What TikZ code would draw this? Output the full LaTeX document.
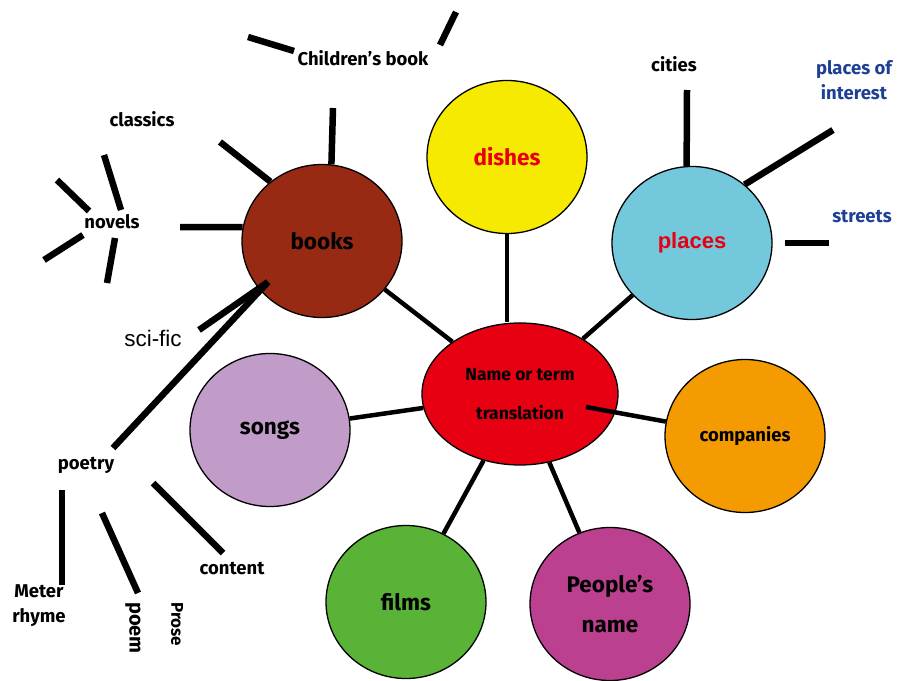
\documentclass[tikz,border=0pt]{standalone}
\usepackage{fontspec}
\setmainfont{Fira Sans}
\newfontfamily\arialfont{Liberation Sans}
\usetikzlibrary{shapes.geometric}
\definecolor{termred}{HTML}{E60012}
\definecolor{bookbrown}{HTML}{982A14}
\definecolor{dishyellow}{HTML}{F5EA00}
\definecolor{placeblue}{HTML}{74C8DC}
\definecolor{songlilac}{HTML}{C29CC8}
\definecolor{companyorange}{HTML}{F39B00}
\definecolor{filmgreen}{HTML}{58B336}
\definecolor{peoplemagenta}{HTML}{BC4090}
\definecolor{labelblue}{HTML}{1E3F96}

\begin{document}
\begin{tikzpicture}[x=1pt, y=-1pt,
		bubble/.style={draw, ellipse, line width=1.3pt, inner sep=0pt, minimum width=160pt, minimum height=153pt, align=center, font=\bfseries\fontsize{22.5}{40}\selectfont},
		link/.style={line width=4.5pt},
		stub/.style={line width=6.5pt},
		lbl/.style={font=\bfseries\fontsize{18.5}{25}\selectfont, align=center}]
		\useasboundingbox (0,0) rectangle (899,680);

		% Define nodes
		\node[bubble, fill=termred, minimum width=196pt, minimum height=142pt, font=\bfseries\fontsize{17.5}{39}\selectfont] (center) at (520,394) {Name or term\\translation};
		\node[bubble, fill=bookbrown] (books) at (322,241) {books}; \node[bubble, fill=dishyellow, text=termred] (dishes) at (507,157) {dishes};
		\node[bubble, fill=placeblue, text=termred, font=\arialfont\bfseries\fontsize{22}{27}\selectfont] (places) at (692,243) {places};
		\node[bubble, fill=songlilac] (songs) at (270,430) {songs}; \node[bubble, fill=companyorange, font=\bfseries\fontsize{18.5}{22}\selectfont] (companies) at (745,436) {companies};
		\node[bubble, fill=filmgreen] (films) at (406,602) {films}; \node[bubble, fill=peoplemagenta] (people) at (610,604) {People's\\name};

		% Define labels
		\node[lbl] (childrens) at (363,58) {Children's book}; \node[lbl] (classics) at (142,119) {classics};
		\node[lbl] (novels) at (112,222) {novels}; \node[font=\arialfont\fontsize{22.5}{24}\selectfont] (scific) at (153,338) {sci-fic};
		\node[lbl] (poetry) at (86,465) {poetry}; \node[lbl] (content) at (232,569) {content};
		\node[lbl] (meter) at (39,606) {Meter\\rhyme};
		\node[lbl, font=\bfseries\fontsize{20}{24}\selectfont, rotate=-90] (poem) at (133,628) {poem}; \node[lbl, font=\bfseries\fontsize{17}{24}\selectfont, rotate=-90] (prose) at (177,624) {Prose};
		\node[lbl] (cities) at (674,64) {cities}; \node[lbl, text=labelblue] (interest) at (854,80) {places of\\interest};
		\node[lbl, text=labelblue] (streets) at (862,217) {streets};

		% Free ends
		\coordinate (bk-top) at (333,108); \coordinate (bk-ul) at (220,142); \coordinate (bk-left) at (180,227);
		\coordinate (bk-in) at (268,282); \coordinate (scific-end) at (199,330); \coordinate (poetry-end) at (113,448);
		\coordinate (ch-a) at (248,37); \coordinate (ch-b) at (294,51); \coordinate (ch-c) at (456,12); \coordinate (ch-d) at (440,45);
		\coordinate (cl-a) at (104,155); \coordinate (cl-b) at (121,210); \coordinate (nv-a) at (57,180); \coordinate (nv-b) at (89,211);
		\coordinate (nv-c) at (44,260); \coordinate (nv-d) at (83,235); \coordinate (nv-e) at (115,238); \coordinate (nv-f) at (107,283);
		\coordinate (po-a) at (62,490); \coordinate (po-b) at (62,585); \coordinate (po-c) at (102,513); \coordinate (po-d) at (138,593);
		\coordinate (po-e) at (153,483); \coordinate (po-f) at (223,553);
		\coordinate (ct-top) at (687,90); \coordinate (pl-ur) at (833,130); \coordinate (pl-right) at (829,243); \coordinate (pl-gap) at (785,243);
		\coordinate (center-in) at (586,407);

		% Draw edges
		\draw[link] (center) -- (books); \draw[link] (dishes) -- (dishes |- center.north); \draw[link] (center) -- (places);
		\draw[link] (center) -- (songs); \draw[link] (center-in) -- (companies); \draw[link] (center) -- (films); \draw[link] (center) -- (people);

		% Draw stubs
		\draw[stub] (books.83) -- (bk-top); \draw[stub] (books.131) -- (bk-ul); \draw[stub] (books.170) -- (bk-left);
		\draw[stub] (bk-in) -- (scific-end); \draw[stub] (bk-in) -- (poetry-end);
		\draw[stub] (ch-a) -- (ch-b); \draw[stub] (ch-c) -- (ch-d); \draw[stub] (cl-a) -- (cl-b);
		\draw[stub] (nv-a) -- (nv-b); \draw[stub] (nv-c) -- (nv-d); \draw[stub] (nv-e) -- (nv-f);
		\draw[stub] (po-a) -- (po-b); \draw[stub] (po-c) -- (po-d); \draw[stub] (po-e) -- (po-f);
		\draw[stub] (places.94) -- (ct-top); \draw[stub] (places.48) -- (pl-ur); \draw[stub] (pl-gap) -- (pl-right);
	\end{tikzpicture}
\end{document}
